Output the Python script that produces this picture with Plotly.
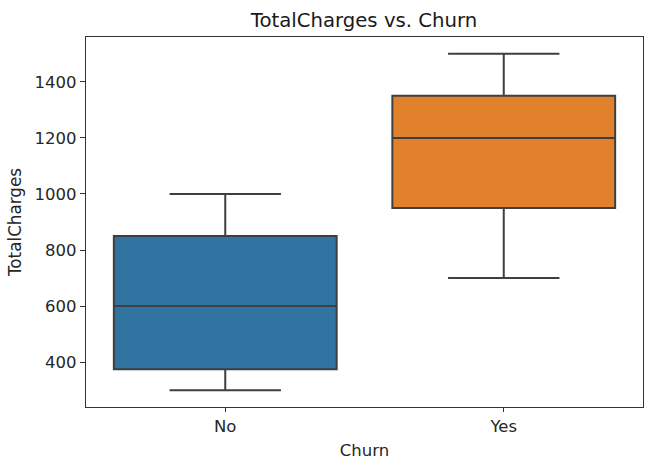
import plotly.graph_objects as go

categories = ["No", "Yes"]
q1_vals = [375, 950]
median_vals = [600, 1200]
q3_vals = [850, 1350]
lower_vals = [300, 700]
upper_vals = [1000, 1500]
fill_colors = ["#3274a1", "#e1812c"]
y_ticks = [400, 600, 800, 1000, 1200, 1400]

fig = go.Figure()
for i, cat in enumerate(categories):
    fig.add_trace(go.Box(
        x=[cat],
        q1=[q1_vals[i]], median=[median_vals[i]], q3=[q3_vals[i]],
        lowerfence=[lower_vals[i]], upperfence=[upper_vals[i]],
        width=0.8, whiskerwidth=0.5,
        fillcolor=fill_colors[i],
        line=dict(color="#3f3f3f", width=2),
        boxpoints=False, showlegend=False, hoverinfo="skip",
    ))

font = "DejaVu Sans, Arial, sans-serif"
fig.update_layout(
    width=655, height=461,
    margin=dict(l=86, r=12, t=37, b=54),
    paper_bgcolor="white", plot_bgcolor="white",
    font=dict(family=font, size=16.5, color="#262626"),
    title=dict(text="TotalCharges vs. Churn", x=364/655, xanchor="center",
               y=1 - 20/461, yanchor="middle",
               font=dict(family=font, size=19.7, color="#1a1a1a")),
    xaxis=dict(
        type="category", range=[-0.5, 1.5], automargin=False,
        title=dict(text="Churn", font=dict(size=16.5), standoff=9),
        showline=True, linecolor="#333333", linewidth=1.2, mirror=True,
        ticks="outside", ticklen=4, tickcolor="#333333", tickwidth=1.2,
        showgrid=False, zeroline=False, tickfont=dict(size=16.5),
    ),
    yaxis=dict(
        range=[240, 1560], tickvals=y_ticks, automargin=False,
        title=dict(text="TotalCharges", font=dict(size=16.8), standoff=8),
        showline=True, linecolor="#333333", linewidth=1.2, mirror=True,
        ticks="outside", ticklen=5, tickcolor="#333333", tickwidth=1.2,
        showgrid=False, zeroline=False, tickfont=dict(size=16.5),
    ),
)

fig.write_html("out.html")
